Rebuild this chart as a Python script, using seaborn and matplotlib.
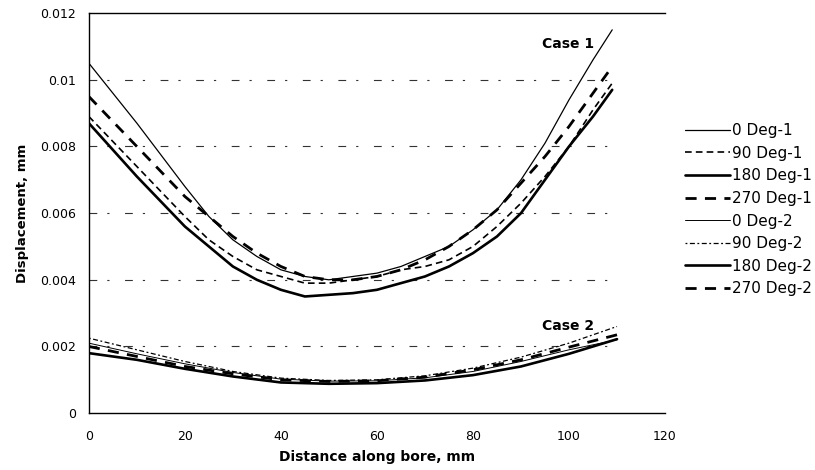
import matplotlib
matplotlib.use("Agg")
import matplotlib.pyplot as plt
import seaborn as sns
import pandas as pd

sns.set_theme(style="white")
plt.rcParams["font.family"] = ["DejaVu Sans"]
plt.rcParams["text.color"] = "black"
plt.rcParams["axes.labelcolor"] = "black"

# Case 1 series (bore displacement, mm)
x_case1 = [0, 10, 20, 25, 30, 35, 40, 45, 50, 55, 60, 65, 70, 75, 80, 85, 90, 95, 100, 105, 109]
deg0_1 = [0.0105, 0.0087, 0.0068, 0.0059, 0.0052, 0.0047, 0.0043, 0.0041, 0.0040, 0.0041, 0.0042,
          0.0044, 0.0047, 0.0050, 0.0055, 0.0061, 0.0070, 0.0081, 0.0094, 0.0106, 0.0115]
deg90_1 = [0.0089, 0.0074, 0.0059, 0.0052, 0.0047, 0.0043, 0.0041, 0.0039, 0.0039, 0.0040, 0.0041,
           0.0043, 0.0044, 0.0046, 0.0050, 0.0056, 0.0063, 0.0071, 0.0080, 0.0091, 0.0099]
deg180_1 = [0.0087, 0.0071, 0.0056, 0.0050, 0.0044, 0.0040, 0.0037, 0.0035, 0.00355, 0.0036, 0.0037,
            0.0039, 0.0041, 0.0044, 0.0048, 0.0053, 0.0060, 0.0070, 0.0080, 0.0089, 0.0097]
deg270_1 = [0.0095, 0.0080, 0.0065, 0.0059, 0.0053, 0.0048, 0.0044, 0.0041, 0.0040, 0.0040, 0.0041,
            0.0043, 0.0046, 0.0050, 0.0055, 0.0061, 0.0069, 0.0077, 0.0086, 0.0096, 0.0104]

# Case 2 series
x_case2 = [0, 10, 20, 30, 40, 50, 60, 70, 80, 90, 100, 110]
deg0_2 = [0.0021, 0.00178, 0.00148, 0.00122, 0.00102, 0.00096, 0.00097, 0.00106, 0.00125, 0.00155,
          0.0019, 0.0022]
deg90_2 = [0.00225, 0.0019, 0.00155, 0.00125, 0.00105, 0.00098, 0.00100, 0.00112, 0.00135, 0.00168,
           0.0021, 0.0026]
deg180_2 = [0.0018, 0.0016, 0.00133, 0.00110, 0.00092, 0.00088, 0.00090, 0.00098, 0.00114, 0.00140,
            0.00178, 0.00222]
deg270_2 = [0.0020, 0.0017, 0.0014, 0.00118, 0.0010, 0.00095, 0.00097, 0.00108, 0.0013, 0.0016,
            0.00198, 0.00235]

x_ticks = [0, 20, 40, 60, 80, 100, 120]
y_ticks = [0, 0.002, 0.004, 0.006, 0.008, 0.01, 0.012]
y_tick_labels = ["0", "0.002", "0.004", "0.006", "0.008", "0.01", "0.012"]

series = [
    ("0 Deg-1", x_case1, deg0_1, "-", 0.9),
    ("90 Deg-1", x_case1, deg90_1, (0, (4, 2.5)), 1.2),
    ("180 Deg-1", x_case1, deg180_1, "-", 1.9),
    ("270 Deg-1", x_case1, deg270_1, (0, (4, 3)), 2.0),
    ("0 Deg-2", x_case2, deg0_2, "-", 0.7),
    ("90 Deg-2", x_case2, deg90_2, (0, (1.5, 2, 4, 2)), 0.9),
    ("180 Deg-2", x_case2, deg180_2, "-", 1.9),
    ("270 Deg-2", x_case2, deg270_2, (0, (4, 3)), 2.0),
]

fig = plt.figure(figsize=(8.15, 4.7), dpi=100)
ax = fig.add_axes([0.109, 0.121, 0.707, 0.851])

# broken horizontal reference lines
for yv in y_ticks[1:-1]:
    ax.axhline(yv, xmin=0, xmax=111 / 120, color="#333333", lw=0.8,
               linestyle=(0, (7, 9, 2, 14)), zorder=1)

for name, xs, ys, ls, lw in series:
    df = pd.DataFrame({"x": xs, "y": ys})
    sns.lineplot(data=df, x="x", y="y", ax=ax, color="black", linestyle=ls,
                 linewidth=lw, label=name, zorder=3)

ax.set_xlim(0, 120)
ax.set_ylim(0, 0.012)
ax.set_xticks(x_ticks)
ax.set_xticklabels([str(t) for t in x_ticks])
ax.set_yticks(y_ticks)
ax.set_yticklabels(y_tick_labels)
ax.tick_params(axis="both", labelsize=9, colors="black", direction="inout",
               length=4, width=0.8)
ax.tick_params(axis="x", pad=10)
ax.tick_params(axis="y", pad=7)

for side in ["left", "bottom", "top"]:
    ax.spines[side].set_color("black")
    ax.spines[side].set_linewidth(1.0)
ax.spines["right"].set_visible(False)

ax.set_xlabel("Distance along bore, mm", fontsize=10, fontweight="bold", labelpad=5,
              color="black")
ax.set_ylabel("Displacement, mm", fontsize=9.5, fontweight="bold", labelpad=8,
              color="black")

ax.text(99.7, 0.01107, "Case 1", fontsize=10, fontweight="bold", ha="center", va="center",
        color="black")
ax.text(99.8, 0.0026, "Case 2", fontsize=10, fontweight="bold", ha="center", va="center",
        color="black")

leg = ax.legend(loc="upper left", bbox_to_anchor=(685 / 815, 1 - 123 / 470),
                bbox_transform=fig.transFigure, frameon=False, fontsize=11,
                handlelength=2.95, handletextpad=0.15, labelspacing=0.5, borderpad=0,
                borderaxespad=0)
for t in leg.get_texts():
    t.set_color("black")

fig.savefig("out.png", dpi=100)
